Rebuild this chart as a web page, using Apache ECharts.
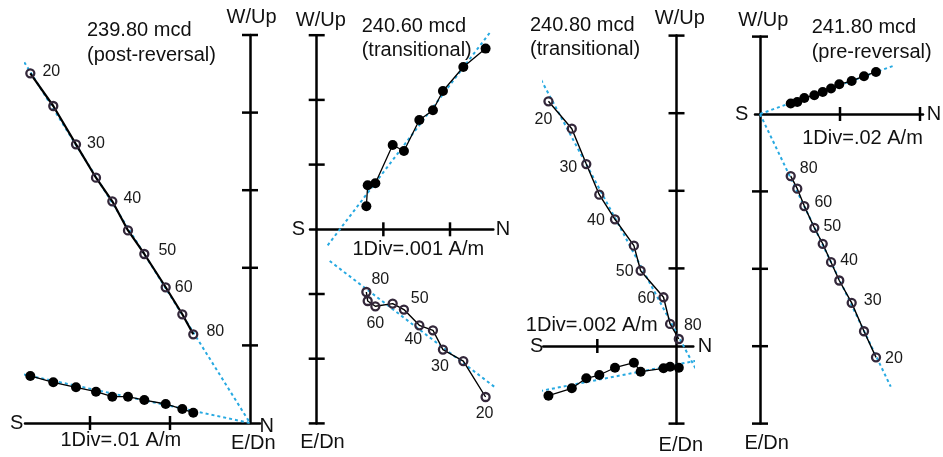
<!DOCTYPE html>
<html><head><meta charset="utf-8">
<script src="https://cdn.jsdelivr.net/npm/echarts@6/dist/echarts.min.js"></script>
<style>html,body{margin:0;padding:0;background:#fff}#c{width:943px;height:457px}</style>
</head><body><div id="c"></div>
<script>
// ---------------- DATA ----------------
const steps = [20, 25, 30, 35, 40, 45, 50, 60, 70, 80];
const labelledSteps = [20, 30, 40, 50, 60, 80];
const titles = ['239.80 mcd', '240.60 mcd', '240.80 mcd', '241.80 mcd'];
const subtitles = ['(post-reversal)', '(transitional)', '(transitional)', '(pre-reversal)'];
const scaleLabels = ['1Div=.01 A/m', '1Div=.001 A/m', '1Div=.002 A/m', '1Div=.02 A/m'];
const axisNames = ['W/Up', 'E/Dn', 'S', 'N'];

// Panel 1 (239.80 mcd), A/m
const p1North = [-0.02746, -0.02459, -0.02175, -0.01925, -0.01721, -0.01525, -0.01321, -0.01054, -0.00846, -0.00709];
const p1Up    = [0.04506, 0.04085, 0.03591, 0.03161, 0.02857, 0.02481, 0.02178, 0.01749, 0.01401, 0.01143];
const p1West  = [0.00606, 0.00524, 0.00460, 0.00403, 0.00339, 0.00339, 0.00296, 0.00245, 0.00180, 0.00133];
const p1FitUp   = [[-0.02941, 0.04845], [0, 0]];
const p1FitWest = [[-0.02975, 0.00657], [0, 0]];
const p1TicksX = [-0.02, -0.01];
const p1TicksY = [0.01, 0.02, 0.03, 0.04, 0.05];

// Panel 2 (240.60 mcd)
const p2North = [0.002534, 0.002200, 0.001894, 0.001744, 0.001540, 0.001309, 0.001140, 0.000880, 0.000765, 0.000745];
const p2West  = [0.002793, 0.002508, 0.002138, 0.001839, 0.001689, 0.001210, 0.001303, 0.000711, 0.000680, 0.000355];
const p2Up    = [-0.002592, -0.002036, -0.001859, -0.001561, -0.001484, -0.001241, -0.001148, -0.001190, -0.001108, -0.000969];
const p2FitWest = [[0.002594, 0.003034], [0.000165, -0.000247]];
const p2FitUp   = [[0.000195, -0.000490], [0.002669, -0.002437]];
const p2TicksX = [0.001, 0.002];
const p2TicksY = [-0.003, -0.002, -0.001, 0.001, 0.002, 0.003];

// Panel 3 (240.80 mcd)
const p3North = [-0.003234, -0.002644, -0.002278, -0.001950, -0.001554, -0.001076, -0.000906, -0.000328, -0.000162, 0.000058];
const p3Up    = [0.006306, 0.005600, 0.004690, 0.003900, 0.003266, 0.002586, 0.001940, 0.001256, 0.000568, 0.000180];
const p3West  = [-0.001280, -0.001090, -0.000832, -0.000748, -0.000560, -0.000430, -0.000662, -0.000574, -0.000534, -0.000560];
const p3FitUp   = [[-0.003418, 0.006856], [0.000478, -0.000574]];
const p3FitWest = [[-0.003444, -0.001160], [0.000504, -0.000378]];
const p3TicksX = [-0.002];
const p3TicksY = [-0.002, 0.002, 0.004, 0.006, 0.008];

// Panel 4 (241.80 mcd)
const p4North = [0.02900, 0.02600, 0.02292, 0.01982, 0.01776, 0.01568, 0.01358, 0.01108, 0.00932, 0.00768];
const p4West  = [0.01086, 0.00976, 0.00854, 0.00768, 0.00658, 0.00570, 0.00484, 0.00414, 0.00310, 0.00270];
const p4Up    = [-0.06288, -0.05614, -0.04880, -0.04302, -0.03830, -0.03354, -0.02940, -0.02380, -0.01930, -0.01604];
const p4FitWest = [[0, 0], [0.03375, 0.01260]];
const p4FitUp   = [[0, 0], [0.03268, -0.07046]];
const p4TicksX = [0.02, 0.04];
const p4TicksY = [-0.08, -0.06, -0.04, -0.02, 0.02];

// ---------------- LAYOUT / STYLE ----------------
const FONT = '"Liberation Sans", Arial, Helvetica, sans-serif';
const BLUE = '#27a9e1';
const RING = '#33273a';
const layout = [
  { grid: {left: 25, top: 35, width: 235, height: 388}, xr: [-0.028125, 0.00125], yr: [0, 0.05],
    title: [87, 30, 55], wup: [251.5, 17], edn: [253.3, 443], s: [16.7, 423], n: [266.7, 426], div: [120.8, 440],
    lab: [[21, -2], [20, -1], [20, -3], [23, -3], [18, 0], [22, -3]], openW: 2.2 },
  { grid: {left: 310, top: 35.2, width: 183.3, height: 388.2}, xr: [-0.0001005, 0.0026497], yr: [-0.003, 0.003],
    title: [361.7, 26.7, 50], wup: [320.8, 20], edn: [322.5, 442.3], s: [298.3, 229.3], n: [503, 229.3], div: [418.3, 249.3],
    lab: [[-1, 17], [-3, 17], [-6, 14], [27, -5], [0, 17], [14, -12]], openW: 1.4 },
  { grid: {left: 543.3, top: 35.6, width: 150, height: 388}, xr: [-0.003364, 0.000424], yr: [-0.002, 0.008],
    title: [530, 25.5, 49], wup: [679.8, 18.8], edn: [680.8, 445.3], s: [536.7, 346.7], n: [705, 346.7], div: [591.7, 325],
    lab: [[-5, 18], [-18, 4], [-19, 1], [-16, 1], [-17, 1], [14, -13]], openW: 1.4 },
  { grid: {left: 755, top: 36.6, width: 168, height: 387}, xr: [-0.00125, 0.04075], yr: [-0.08, 0.02],
    title: [811.7, 27.7, 52.3], wup: [763.3, 20], edn: [766.7, 443.3], s: [741.7, 114], n: [934, 114], div: [862.5, 138.3],
    lab: [[18, 1], [21, -2], [18, -2], [18, -1], [19, -4], [18, -7]], openW: 1.4 }
];

const panelData = [
  {north: p1North, up: p1Up, west: p1West, fitUp: p1FitUp, fitWest: p1FitWest, tx: p1TicksX, ty: p1TicksY},
  {north: p2North, up: p2Up, west: p2West, fitUp: p2FitUp, fitWest: p2FitWest, tx: p2TicksX, ty: p2TicksY},
  {north: p3North, up: p3Up, west: p3West, fitUp: p3FitUp, fitWest: p3FitWest, tx: p3TicksX, ty: p3TicksY},
  {north: p4North, up: p4Up, west: p4West, fitUp: p4FitUp, fitWest: p4FitWest, tx: p4TicksX, ty: p4TicksY}
];

// ---------------- BUILD ----------------
const grids = [], xAxes = [], yAxes = [], series = [], graphics = [];
const axisLineStyle = {color: '#000', width: 2.5};

function txt(x, y, text, size, align) {
  graphics.push({
    type: 'text', x: x, y: y, silent: true,
    style: {text: text, font: size + 'px ' + FONT, fill: '#111',
      textAlign: align, align: align, textVerticalAlign: 'middle', verticalAlign: 'middle'}
  });
}

function tickSeries(gi, vals, dir) {
  return {
    type: 'custom', xAxisIndex: gi, yAxisIndex: gi, silent: true, clip: false, z: 4,
    encode: {x: 0, y: 1},
    data: vals.map(v => dir === 'x' ? [v, 0] : [0, v]),
    renderItem: function (params, api) {
      const p = api.coord([api.value(0), api.value(1)]);
      const h = dir === 'x' ? 7 : 8;
      const shape = dir === 'x'
        ? {x1: p[0], y1: p[1] - h, x2: p[0], y2: p[1] + h}
        : {x1: p[0] - h, y1: p[1], x2: p[0] + h, y2: p[1]};
      return {type: 'line', shape: shape, style: {stroke: '#000', lineWidth: 2.5}};
    }
  };
}

layout.forEach((L, i) => {
  const D = panelData[i];
  grids.push(Object.assign({containLabel: false, outerBoundsMode: 'none'}, L.grid));
  xAxes.push({type: 'value', gridIndex: i, min: L.xr[0], max: L.xr[1], scale: false,
    axisLine: {show: true, onZero: true, lineStyle: axisLineStyle},
    axisTick: {show: false}, axisLabel: {show: false}, splitLine: {show: false}});
  yAxes.push({type: 'value', gridIndex: i, min: L.yr[0], max: L.yr[1], scale: false,
    axisLine: {show: true, onZero: true, lineStyle: axisLineStyle},
    axisTick: {show: false}, axisLabel: {show: false}, splitLine: {show: false}});

  series.push(tickSeries(i, D.tx, 'x'));
  series.push(tickSeries(i, D.ty, 'y'));

  // fit lines
  [D.fitUp, D.fitWest].forEach(f => series.push({
    type: 'line', xAxisIndex: i, yAxisIndex: i, data: f, symbol: 'none', clip: false, silent: true, z: 1,
    lineStyle: {color: BLUE, width: 2, type: [3, 3]}
  }));

  // horizontal projection (filled)
  series.push({
    type: 'line', xAxisIndex: i, yAxisIndex: i, clip: false, z: 3,
    data: D.north.map((n, k) => [n, D.west[k]]),
    symbol: 'circle', symbolSize: 10, showAllSymbol: true,
    itemStyle: {color: '#000'}, lineStyle: {color: '#000', width: 1.3}
  });

  // vertical projection (open) with step labels
  series.push({
    type: 'line', xAxisIndex: i, yAxisIndex: i, clip: false, z: 3,
    data: D.north.map((n, k) => {
      const li = labelledSteps.indexOf(steps[k]);
      const item = {value: [n, D.up[k]]};
      if (li >= 0) {
        item.label = {show: true, position: 'inside', offset: L.lab[li],
          formatter: String(steps[k]), fontSize: 16, fontFamily: FONT, color: '#1a1a1a'};
      }
      return item;
    }),
    symbol: 'circle', symbolSize: 8, showAllSymbol: true,
    itemStyle: {color: 'rgba(255,255,255,0)', borderColor: RING, borderWidth: 2.3},
    lineStyle: {color: '#000', width: L.openW},
    label: {show: false}
  });

  // texts
  txt(L.title[0], L.title[1], titles[i], 20, 'left');
  txt(L.title[0], L.title[2], subtitles[i], 20, 'left');
  txt(L.wup[0], L.wup[1], axisNames[0], 20, 'center');
  txt(L.edn[0], L.edn[1], axisNames[1], 20, 'center');
  txt(L.s[0], L.s[1], axisNames[2], 20, 'center');
  txt(L.n[0], L.n[1], axisNames[3], 20, 'center');
  txt(L.div[0], L.div[1], scaleLabels[i], 20, 'center');
});

const chart = echarts.init(document.getElementById('c'), null, {renderer: 'canvas'});
chart.setOption({
  animation: false,
  backgroundColor: '#fff',
  grid: grids, xAxis: xAxes, yAxis: yAxes, series: series, graphic: graphics
});
</script></body></html>
